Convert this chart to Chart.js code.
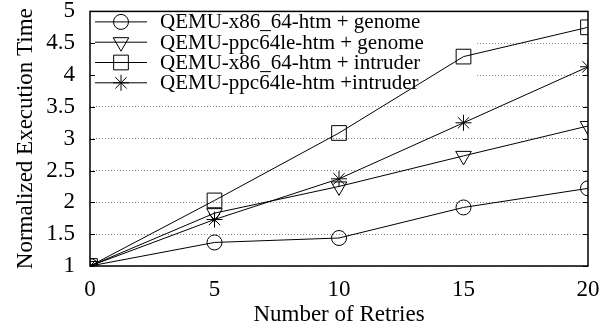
<!DOCTYPE html>
<html>
<head>
<meta charset="utf-8">
<script src="https://cdn.jsdelivr.net/npm/chart.js@4.4.0/dist/chart.umd.min.js"></script>
<style>
  html, body { margin: 0; padding: 0; background: #fff; }
  #wrap { width: 608px; height: 329px; }
</style>
</head>
<body>
<div id="wrap"><canvas id="c" width="608" height="329"></canvas></div>
<script>
const retries = [0, 5, 10, 15, 20];
const x86Genome = [1, 1.37, 1.44, 1.92, 2.22];
const ppcGenome = [1, 1.83, 2.25, 2.73, 3.20];
const x86Intruder = [1, 2.03, 3.09, 4.29, 4.75];
const ppcIntruder = [1, 1.73, 2.37, 3.25, 4.13];
const seriesLabels = [
  'QEMU-x86_64-htm + genome',
  'QEMU-ppc64le-htm + genome',
  'QEMU-x86_64-htm + intruder',
  'QEMU-ppc64le-htm +intruder'
];
const yTickValues = [1, 1.5, 2, 2.5, 3, 3.5, 4, 4.5, 5];
const xTickValues = [0, 5, 10, 15, 20];

const FONT = "'Liberation Serif', 'Times New Roman', serif";

function pts(vals) { return retries.map((x, i) => ({ x: x, y: vals[i] })); }

const styles = [
  { pointStyle: 'circle', radius: 7.5, rotation: 0 },
  { pointStyle: 'triangle', radius: 9, rotation: 180 },
  { pointStyle: 'rect', radius: 10.4, rotation: 0 },
  { pointStyle: 'star', radius: 8, rotation: 0 }
];
const allValues = [x86Genome, ppcGenome, x86Intruder, ppcIntruder];

const datasets = allValues.map((vals, i) => ({
  label: seriesLabels[i],
  data: pts(vals),
  borderColor: '#000',
  borderWidth: 1,
  backgroundColor: 'rgba(0,0,0,0)',
  pointStyle: styles[i].pointStyle,
  pointRadius: styles[i].radius,
  pointRotation: styles[i].rotation,
  pointBorderColor: '#000',
  pointBackgroundColor: 'rgba(0,0,0,0)',
  pointBorderWidth: 1,
  tension: 0,
  fill: false
}));

const framePlugin = {
  id: 'frame',
  beforeDatasetsDraw(chart) {
    const a = chart.chartArea, ctx = chart.ctx;
    ctx.save();
    ctx.fillStyle = '#fff';
    ctx.fillRect(a.left + 1, a.top + 1, 385, 80);
    ctx.restore();
  },
  afterDraw(chart) {
    const a = chart.chartArea, ctx = chart.ctx;
    const ys = chart.scales.y;
    ctx.save();
    ctx.strokeStyle = '#000';
    ctx.lineWidth = 1;
    yTickValues.forEach(v => {
      const py = Math.round(ys.getPixelForValue(v)) + 0.5;
      ctx.beginPath();
      ctx.moveTo(a.left, py); ctx.lineTo(a.left + 5, py);
      ctx.moveTo(a.right, py); ctx.lineTo(a.right - 5, py);
      ctx.stroke();
    });
    ctx.lineWidth = 1.5;
    ctx.strokeRect(a.left, a.top, a.right - a.left, a.bottom - a.top);
    ctx.font = '21px ' + FONT;
    ctx.textBaseline = 'middle';
    ctx.textAlign = 'left';
    chart.data.datasets.forEach((ds, i) => {
      const y = a.top + 10.5 + i * 20.3;
      ctx.strokeStyle = '#000';
      ctx.lineWidth = 1;
      ctx.beginPath();
      ctx.moveTo(a.left + 5, y); ctx.lineTo(a.left + 57, y);
      ctx.stroke();
      ctx.fillStyle = 'rgba(0,0,0,0)';
      Chart.helpers.drawPoint(ctx, {
        pointStyle: ds.pointStyle, rotation: ds.pointRotation,
        radius: ds.pointRadius, borderWidth: 1
      }, a.left + 31, y);
      ctx.fillStyle = '#000';
      ctx.fillText(ds.label, a.left + 70, y + 1);
    });
    ctx.restore();
  }
};

new Chart(document.getElementById('c'), {
  type: 'line',
  data: { datasets: datasets },
  plugins: [framePlugin],
  options: {
    responsive: false,
    animation: false,
    events: [],
    layout: { padding: { left: 0, right: 20, top: 10, bottom: 0 } },
    plugins: { legend: { display: false }, tooltip: { enabled: false } },
    scales: {
      x: {
        type: 'linear', min: 0, max: 20,
        afterBuildTicks(scale) { scale.ticks = xTickValues.map(v => ({ value: v })); },
        afterFit(scale) { scale.height = 63; scale.paddingLeft = 0; scale.paddingRight = 0; },
        grid: { display: false, drawTicks: false },
        border: { display: false },
        ticks: { color: '#000', font: { family: FONT, size: 23 }, padding: 10, maxRotation: 0, callback: v => String(v) },
        title: { display: true, text: 'Number of Retries', color: '#000', font: { family: FONT, size: 23 }, padding: { top: 0, bottom: 0 } }
      },
      y: {
        type: 'linear', min: 1, max: 5,
        afterBuildTicks(scale) { scale.ticks = yTickValues.map(v => ({ value: v })); },
        afterFit(scale) { scale.width = 90; scale.paddingTop = 0; scale.paddingBottom = 0; },
        grid: { color: '#8a8a8a', lineWidth: 1, drawTicks: false },
        border: { display: false, dash: [1, 2] },
        ticks: { color: '#000', font: { family: FONT, size: 23 }, padding: 15, callback: v => String(v) },
        title: { display: true, text: 'Normalized Execution Time', color: '#000', font: { family: FONT, size: 23 }, padding: { top: 12, bottom: 0 } }
      }
    }
  }
});
</script>
</body>
</html>
